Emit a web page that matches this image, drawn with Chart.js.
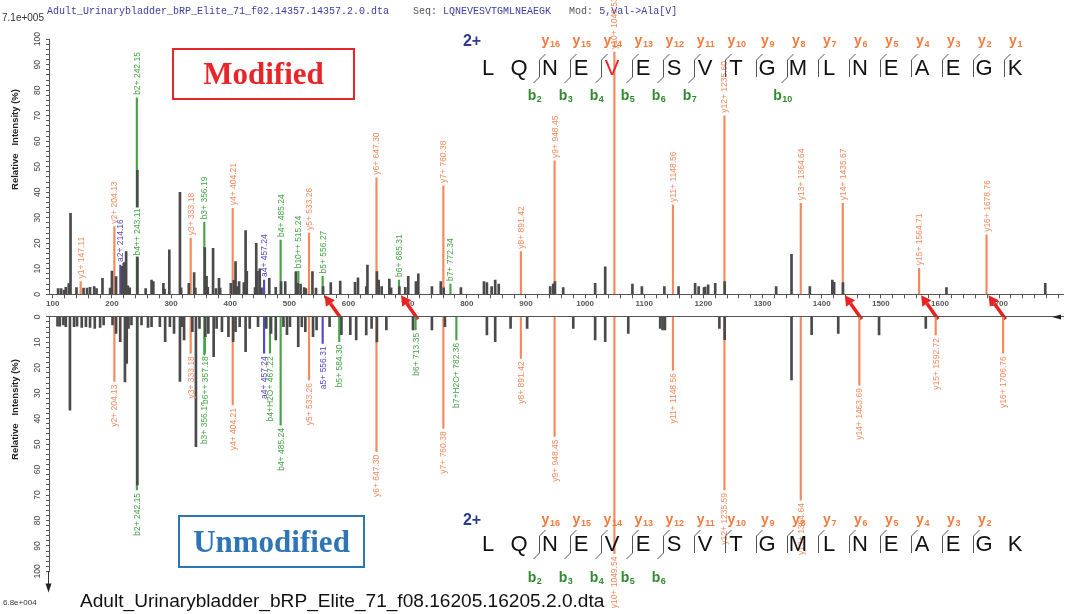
<!DOCTYPE html>
<html>
<head>
<meta charset="utf-8">
<title>LQNEVESVTGMLNEAEGK MS/MS</title>
<script src="https://cdn.jsdelivr.net/npm/chart.js@4.4.1/dist/chart.umd.min.js"></script>
<style>
  html, body { margin: 0; padding: 0; background: #fff; }
  #page { position: relative; width: 1065px; height: 614px; overflow: hidden; background: #fff; }
  .wrap { position: absolute; left: 0; width: 1065px; }
  #topWrap { top: 0; height: 322px; }
  #botWrap { top: 306px; height: 308px; }
  .hdr { position: absolute; left: 47px; top: 6px; font: 10px "Liberation Mono", "Courier New", monospace; white-space: pre; color: #555; }
  .hdr .v { color: #3c3ca0; }
  .tag { position: absolute; box-sizing: border-box; display: flex; align-items: center; justify-content: center;
         font: bold 31px "Liberation Serif", "Times New Roman", serif; }
  #mod { left: 172px; top: 48px; width: 183px; height: 52px; border: 2px solid #e8262a; color: #e8262a; }
  #unmod { left: 178px; top: 515px; width: 187px; height: 53px; border: 2px solid #2e75b6; color: #2e75b6; }
  .ytitle { position: absolute; width: 140px; margin-left: -70px; margin-top: -6px; line-height: 12px; text-align: center;
            font: bold 9.5px "Liberation Sans", Arial, sans-serif; color: #222; white-space: pre; transform: rotate(-90deg); }
  .scale { position: absolute; font: 10px "Liberation Sans", Arial, sans-serif; color: #333; }
  #fname2 { position: absolute; left: 80px; top: 590px; font: 19.1px "Liberation Sans", Arial, sans-serif; color: #111; white-space: nowrap; }
</style>
</head>
<body>
<div id="page">
  <div class="wrap" id="topWrap"><canvas id="topChart"></canvas></div>
  <div class="wrap" id="botWrap"><canvas id="botChart"></canvas></div>

  <div class="hdr"><span class="v">Adult_Urinarybladder_bRP_Elite_71_f02.14357.14357.2.0.dta</span>    Seq: <span class="v">LQNEVESVTGMLNEAEGK</span>   Mod: <span class="v">5,Val-&gt;Ala[V]</span></div>
  <div class="scale" style="left:2px;top:12px;">7.1e+005</div>
  <div class="scale" style="left:3px;top:598px;font-size:8px;">6.8e+004</div>
  <div id="fname2">Adult_Urinarybladder_bRP_Elite_71_f08.16205.16205.2.0.dta</div>
  <div class="ytitle" style="left:14px;top:140px;">Relative   Intensity (%)</div>
  <div class="ytitle" style="left:14px;top:410px;">Relative   Intensity (%)</div>
  <div class="tag" id="mod">Modified</div>
  <div class="tag" id="unmod">Unmodified</div>
</div>

<script>
(() => {
    const SANS = '"Liberation Sans", Arial, sans-serif';
    const ORANGE = '#f5895c';
    const GREEN = '#45a445';
    const PURPLE = '#5548c8';
    const PEAK = '#4a4a4a';
    const AXIS = '#555';
    const RED = '#e8231f';

    // axis labels
    const xLabels = [100, 200, 300, 400, 500, 600, 700, 800, 900, 1000, 1100, 1200, 1300, 1400, 1500, 1600, 1700];
    const yLabels = [0, 10, 20, 30, 40, 50, 60, 70, 80, 90, 100];

    // modified peptide spectrum (f02.14357), unassigned peaks
    const topMz = [109, 114, 119, 122, 127, 130, 140, 152, 158, 163, 170, 174, 184, 197, 200, 207, 217, 220, 224, 227,
        230, 243, 257, 267, 270, 287, 289, 297, 315, 317, 330, 339, 341, 357, 360, 362, 371, 376, 381, 383,
        401, 406, 409, 412, 415, 423, 426, 428, 442, 444, 446, 450, 453, 466, 477, 486, 493, 511, 514, 519,
        525, 528, 539, 545, 557, 570, 586, 611, 616, 630, 632, 648, 651, 656, 669, 672, 686, 696, 701, 714,
        718, 741, 756, 761, 790, 829, 834, 842, 848, 854, 941, 946, 949, 963, 1017, 1034, 1080, 1096, 1134, 1158,
        1186, 1192, 1201, 1203, 1208, 1220, 1236, 1323, 1349, 1380, 1418, 1421, 1436, 1611, 1778];
    const topInt = [2.2, 2.2, 1.7, 2.7, 4.2, 31.7, 2.6, 2.4, 2.4, 2.7, 3.0, 2.2, 6.3, 2.4, 9.1, 6.9, 11.0, 12.4, 16.7, 3.3,
        2.5, 48.6, 2.2, 5.6, 5.0, 4.3, 2.0, 17.4, 40.0, 2.5, 4.3, 8.5, 2.4, 18.3, 7.0, 2.7, 18.0, 2.2, 6.3, 2.4,
        4.3, 5.5, 12.8, 3.0, 5.0, 4.6, 25.0, 9.0, 2.6, 20.0, 9.0, 10.0, 2.5, 6.3, 2.7, 5.0, 5.0, 8.9, 4.3, 4.0,
        2.6, 2.2, 8.9, 2.4, 3.0, 4.6, 5.2, 4.7, 6.5, 3.0, 11.5, 8.9, 5.6, 3.0, 6.0, 2.5, 3.0, 2.7, 7.0, 5.0,
        8.0, 3.0, 5.0, 2.5, 2.6, 5.0, 4.6, 3.0, 5.6, 4.0, 3.0, 4.0, 5.0, 2.6, 4.3, 10.8, 4.0, 3.0, 3.0, 3.0,
        4.3, 3.0, 2.6, 2.8, 3.7, 4.3, 5.0, 3.0, 15.7, 3.0, 5.6, 4.7, 4.6, 2.6, 4.3];

    // modified spectrum, assigned fragment ions
    const topIonTag = ['y1+', 'y2+', 'a2+', 'b2+', 'b4++', 'y3+', 'b3+', 'y4+', 'a4+', 'b4+', 'b10++', 'y5+', 'b5+',
        'y6+', 'b6+', 'y7+', 'b7+', 'y8+', 'y9+', 'y10+', 'y11+', 'y12+', 'y13+', 'y14+', 'y15+', 'y16+'];
    const topIonMz = [147.11, 204.13, 214.16, 242.15, 243.11, 333.18, 356.19, 404.21, 457.24, 485.24, 515.24, 533.26, 556.27,
        647.30, 685.31, 760.38, 772.34, 891.42, 948.45, 1049.53, 1148.56, 1235.60, 1364.64, 1435.67, 1564.71, 1678.76];
    const topIonInt = [5.0, 26.5, 11.5, 77.0, 14.0, 22.0, 28.2, 33.7, 5.6, 21.3, 9.0, 24.0, 7.0,
        45.7, 5.6, 42.5, 4.0, 16.7, 52.3, 95.0, 35.0, 70.0, 35.7, 35.7, 10.2, 23.3];

    // unmodified peptide spectrum (f08.16205), unassigned peaks
    const botMz = [108, 112, 118, 122, 129, 136, 141, 149, 156, 163, 171, 180, 186, 201, 207, 214, 222, 225, 228, 233,
        243, 250, 261, 267, 281, 290, 298, 305, 315, 318, 322, 336, 342, 348, 358, 363, 372, 377, 386, 397,
        405, 409, 416, 426, 433, 447, 461, 469, 477, 490, 496, 501, 515, 521, 527, 540, 546, 568, 588, 603,
        613, 630, 639, 648, 664, 709, 741, 763, 834, 848, 874, 902, 980, 1017, 1034, 1073, 1127, 1131, 1135, 1227,
        1236, 1349, 1383, 1428, 1497, 1576];
    const botInt = [3.6, 3.6, 3.2, 3.8, 36.6, 3.8, 3.6, 4.1, 3.8, 4.1, 4.5, 4.1, 3.2, 3.2, 6.5, 9.7, 25.5, 18.3, 4.5, 3.2,
        66.0, 3.2, 4.1, 3.8, 3.8, 9.7, 3.8, 6.5, 25.4, 3.8, 9.0, 5.8, 51.0, 4.5, 7.8, 6.5, 15.6, 4.5, 5.8, 7.8,
        9.7, 5.8, 3.8, 13.7, 4.5, 3.8, 4.5, 6.5, 9.0, 3.8, 7.0, 3.8, 11.7, 3.8, 5.8, 7.8, 5.1, 3.8, 7.0, 7.0,
        9.0, 7.1, 4.5, 9.8, 5.1, 5.1, 5.1, 3.8, 7.1, 9.7, 4.5, 4.5, 4.5, 9.0, 9.7, 6.5, 4.5, 5.1, 5.1, 4.5,
        8.9, 24.8, 7.0, 6.5, 7.1, 4.5];

    // unmodified spectrum, assigned fragment ions
    const botIonTag = ['y2+', 'b2+', 'y3+', 'b3+', 'b6++', 'y4+', 'a4+', 'b4+H2O+', 'b4+', 'y5+', 'a5+', 'b5+',
        'y6+', 'b6+', 'y7+', 'b7+H2O+', 'y8+', 'y9+', 'y10+', 'y11+', 'y12+', 'y13+', 'y14+', 'y15+', 'y16+'];
    const botIonMz = [204.13, 242.15, 333.18, 356.19, 357.18, 404.21, 457.24, 467.22, 485.24, 533.26, 556.31, 584.30,
        647.30, 713.35, 760.38, 782.36, 891.42, 948.45, 1049.54, 1148.56, 1235.59, 1364.64, 1463.69, 1592.72, 1706.76];
    const botIonInt = [25.4, 68.0, 14.3, 32.0, 14.3, 34.6, 14.3, 14.3, 42.5, 24.8, 10.4, 9.7,
        53.0, 5.1, 43.8, 9.0, 16.3, 47.0, 93.0, 20.9, 68.0, 72.0, 26.8, 7.1, 14.3];

    // fragments that shift with the V5 -> A change
    const arrowMz = [556.27, 685.31, 1435.67, 1564.71, 1678.76];

    // peptide and observed fragment series
    const residues = ['L', 'Q', 'N', 'E', 'V', 'E', 'S', 'V', 'T', 'G', 'M', 'L', 'N', 'E', 'A', 'E', 'G', 'K'];
    const modSite = 4;
    const topY = [16, 15, 14, 13, 12, 11, 10, 9, 8, 7, 6, 5, 4, 3, 2, 1];
    const topB = [2, 3, 4, 5, 6, 7, 10];
    const botY = [16, 15, 14, 13, 12, 11, 10, 9, 8, 7, 6, 5, 4, 3, 2];
    const botB = [2, 3, 4, 5, 6];

    const MZ_MIN = 93.6;
    const MZ_MAX = 1808;
    const SEQ_X0 = 488;
    const SEQ_DX = 31;

    const xTicks = [];
    for (let v = 100; v <= 1800; v += 20) xTicks.push(v);
    const yTicks = [];
    for (let v = 0; v <= 100; v += 2) yTicks.push(v);

    function ionColor(tag) {
        if (tag[0] === 'y') return ORANGE;
        if (tag[0] === 'b') return GREEN;
        return PURPLE;
    }

    function drawArrow(ctx, x0, y0, x1, y1) {
        const a = Math.atan2(y1 - y0, x1 - x0);
        const L = 10, W = 5.5;
        const bx = x1 - L * Math.cos(a), by = y1 - L * Math.sin(a);
        ctx.strokeStyle = RED;
        ctx.fillStyle = RED;
        ctx.lineWidth = 3.5;
        ctx.beginPath();
        ctx.moveTo(x0, y0);
        ctx.lineTo(bx, by);
        ctx.stroke();
        ctx.beginPath();
        ctx.moveTo(x1, y1);
        ctx.lineTo(bx + W * Math.sin(a), by - W * Math.cos(a));
        ctx.lineTo(bx - W * Math.sin(a), by + W * Math.cos(a));
        ctx.closePath();
        ctx.fill();
    }

    function ionTag(ctx, letter, n, cx, cy, color) {
        ctx.fillStyle = color;
        ctx.textAlign = 'left';
        ctx.textBaseline = 'alphabetic';
        ctx.font = 'bold 14px ' + SANS;
        const w1 = ctx.measureText(letter).width;
        ctx.font = 'bold 9px ' + SANS;
        const w2 = ctx.measureText(String(n)).width;
        const x0 = cx - (w1 + w2) / 2;
        ctx.font = 'bold 14px ' + SANS;
        ctx.fillText(letter, x0, cy + 4);
        ctx.font = 'bold 9px ' + SANS;
        ctx.fillText(String(n), x0 + w1 + 0.5, cy + 6);
    }

    // sequence coverage map: residues, cleavage marks, b/y tags
    function drawSequence(ctx, seq) {
        const top = seq.top;
        ctx.save();
        ctx.font = 'bold 16px ' + SANS;
        ctx.fillStyle = '#2b3990';
        ctx.textAlign = 'center';
        ctx.textBaseline = 'middle';
        ctx.fillText('2+', 472, top - seq.yGap + 1);

        ctx.font = '22px ' + SANS;
        residues.forEach((r, i) => {
            ctx.fillStyle = i === seq.highlight ? '#e8262a' : '#111';
            ctx.fillText(r, SEQ_X0 + i * SEQ_DX, top + 1);
        });

        const n = residues.length;
        for (let j = 1; j < n; j++) {
            const yi = n - j;
            const hasY = seq.yIons.includes(yi);
            const hasB = seq.bIons.includes(j);
            if (!hasY && !hasB) continue;
            const mx = Math.round(SEQ_X0 + j * SEQ_DX - 11) + 0.5;
            ctx.strokeStyle = '#555';
            ctx.lineWidth = 1;
            ctx.beginPath();
            ctx.moveTo(mx + 6, top - 14);
            ctx.lineTo(mx, top - 8);
            ctx.lineTo(mx, top + 9);
            if (hasB) ctx.lineTo(mx - 6, top + 15);
            ctx.stroke();
            if (hasY) ionTag(ctx, 'y', yi, mx + 11, top - seq.yGap, '#f07b3f');
            if (hasB) ionTag(ctx, 'b', j, mx - 5, top + seq.bGap, '#2e8b2e');
        }
        ctx.restore();
    }

    function spectrumChart(canvas, s) {
        const overlay = {
            id: 'overlay',
            afterDatasetsDraw(chart) {
                const ctx = chart.ctx;
                const meta = chart.getDatasetMeta(1);
                ctx.save();
                ctx.font = '8.5px ' + SANS;
                ctx.textBaseline = 'middle';
                ctx.textAlign = 'left';
                meta.data.forEach((bar, i) => {
                    const text = s.ionTag[i] + ' ' + s.ionMz[i].toFixed(2);
                    const w = ctx.measureText(text).width;
                    const start = s.down ? -(3 + w) : 3;
                    ctx.save();
                    ctx.translate(Math.round(bar.x), bar.y);
                    ctx.rotate(-Math.PI / 2);
                    ctx.fillStyle = '#fff';
                    ctx.fillRect(start - 1, -3, w + 2, 6);
                    ctx.fillStyle = ionColor(s.ionTag[i]);
                    ctx.fillText(text, start, 0.5);
                    ctx.restore();
                });

                const xs = chart.scales.x, ys = chart.scales.y;
                if (!s.down) {
                    const tipY = ys.getPixelForValue(0) + 1;
                    arrowMz.forEach(m => {
                        const tx = xs.getPixelForValue(m) + 2;
                        drawArrow(ctx, tx + 17, tipY + 24, tx, tipY);
                    });
                } else {
                    // axis arrow heads
                    const ax = ys.right, ay = ys.bottom;
                    ctx.strokeStyle = '#333';
                    ctx.fillStyle = '#222';
                    ctx.lineWidth = 1;
                    ctx.beginPath();
                    ctx.moveTo(ax - 0.5, ay);
                    ctx.lineTo(ax - 0.5, ay + 14);
                    ctx.stroke();
                    ctx.beginPath();
                    ctx.moveTo(ax - 0.5, ay + 21);
                    ctx.lineTo(ax - 3.5, ay + 12);
                    ctx.lineTo(ax + 2.5, ay + 12);
                    ctx.closePath();
                    ctx.fill();
                    const ry = xs.bottom;
                    ctx.beginPath();
                    ctx.moveTo(chart.chartArea.right - 11, ry);
                    ctx.lineTo(chart.chartArea.right - 2, ry - 2.5);
                    ctx.lineTo(chart.chartArea.right - 2, ry + 2.5);
                    ctx.closePath();
                    ctx.fill();
                }
                ctx.restore();
            },
            afterDraw(chart) {
                drawSequence(chart.ctx, s.seq);
            }
        };

        return new Chart(canvas, {
            type: 'bar',
            data: {
                datasets: [
                    {
                        label: 'peaks',
                        data: s.mz.map((m, i) => ({ x: m, y: s.inten[i] })),
                        backgroundColor: PEAK,
                        barThickness: 2,
                        stack: 'p',
                        order: 0
                    },
                    {
                        label: 'ions',
                        data: s.ionMz.map((m, i) => ({ x: m, y: s.ionInt[i] })),
                        backgroundColor: s.ionTag.map(ionColor),
                        barThickness: 1.5,
                        stack: 'p',
                        order: 1
                    }
                ]
            },
            options: {
                responsive: true,
                maintainAspectRatio: false,
                animation: false,
                events: [],
                layout: { padding: s.padding },
                plugins: { legend: { display: false }, tooltip: { enabled: false } },
                scales: {
                    x: {
                        type: 'linear',
                        position: s.down ? 'top' : 'bottom',
                        min: MZ_MIN,
                        max: MZ_MAX,
                        offset: false,
                        grid: { display: !s.down, drawOnChartArea: false, tickLength: 4, color: AXIS, offset: false },
                        border: { display: true, color: AXIS, width: 1 },
                        ticks: {
                            display: !s.down,
                            autoSkip: false,
                            maxRotation: 0,
                            padding: 1,
                            color: '#555',
                            font: { family: SANS, size: 8, weight: 'bold' },
                            callback: v => xLabels.includes(v) ? String(v) : ''
                        },
                        afterBuildTicks: sc => { sc.ticks = xTicks.map(v => ({ value: v })); },
                        afterFit: sc => { sc.height = s.axisH; }
                    },
                    y: {
                        min: 0,
                        max: 100,
                        reverse: s.down,
                        grid: { drawOnChartArea: false, tickLength: 3, color: AXIS },
                        border: { display: true, color: AXIS, width: 1 },
                        ticks: {
                            autoSkip: false,
                            minRotation: 90,
                            maxRotation: 90,
                            crossAlign: 'center',
                            padding: 1,
                            color: '#444',
                            font: { family: SANS, size: 8.5 },
                            callback: v => yLabels.includes(v) ? String(v) : ''
                        },
                        afterBuildTicks: sc => { sc.ticks = yTicks.map(v => ({ value: v })); },
                        afterFit: sc => { sc.width = 49; }
                    }
                }
            },
            plugins: [overlay]
        });
    }

    spectrumChart(document.getElementById('topChart'), {
        mz: topMz, inten: topInt, ionMz: topIonMz, ionInt: topIonInt, ionTag: topIonTag,
        down: false,
        padding: { top: 39.2, right: 2, left: 0, bottom: 0 },
        axisH: 27.7,
        seq: { top: 68, yGap: 27, bGap: 28, yIons: topY, bIons: topB, highlight: modSite }
    });

    spectrumChart(document.getElementById('botChart'), {
        mz: botMz, inten: botInt, ionMz: botIonMz, ionInt: botIonInt, ionTag: botIonTag,
        down: true,
        padding: { top: 10.9, right: 2, left: 0, bottom: 42.6 },
        axisH: 0,
        seq: { top: 238, yGap: 24, bGap: 34, yIons: botY, bIons: botB, highlight: -1 }
    });
})();
</script>
</body>
</html>
